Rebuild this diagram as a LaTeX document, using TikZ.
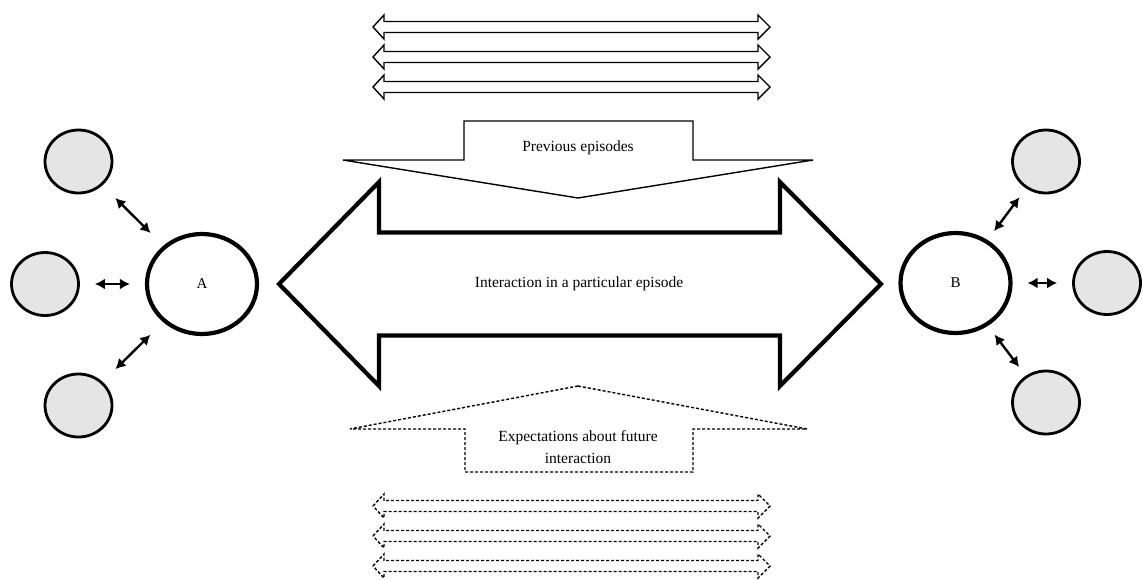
\documentclass[tikz,border=0pt]{standalone}
\usepackage{fontspec}
\setmainfont{Liberation Serif}
\usepackage{tikz}
\usetikzlibrary{arrows.meta,shapes}

\tikzset{
  actor/.style = {ellipse, draw, line width=4.2pt, minimum width=110pt, minimum height=100pt, font=\fontsize{15}{17}\selectfont},
  other/.style = {ellipse, draw, line width=2.8pt, fill=gray!20, minimum width=67pt, minimum height=63pt},
  link/.style = {{Latex[length=10pt,width=11pt]}-{Latex[length=10pt,width=11pt]}, line width=2.4pt, shorten >=#1, shorten <=#1},
  link/.default = 18pt,
  txt/.style = {font=\fontsize{15.5}{22}\selectfont, align=center},
  bigarrow/.style = {draw, line width=4.2pt},
  blockarrow/.style = {draw, line width=1.4pt},
  future/.style = {dash pattern=on 3pt off 2pt}
}

\begin{document}
\begin{tikzpicture}[x=1pt,y=-1pt]
\useasboundingbox (0,0) rectangle (1143,579);

\foreach \y in {27,57,87}
  \draw[blockarrow] (373,\y) -- (384,\y-12) -- (384,\y-5.5) -- (758,\y-5.5) -- (758,\y-12) -- (770,\y) -- (758,\y+12) -- (758,\y+5.5) -- (384,\y+5.5) -- (384,\y+12) -- cycle;

\draw[blockarrow] (464,121) -- (693,121) -- (693,160) -- (813,160) -- (578,198) -- (343,160) -- (464,160) -- cycle;
\node[txt] (prev) at (578,148) {Previous episodes};

\draw[bigarrow] (279,284) -- (379,182) -- (379,232.5) -- (780,232.5) -- (780,182) -- (881,284) -- (780,386) -- (780,335.5) -- (379,335.5) -- (379,386) -- cycle;
\node[txt] (inter) at (579,284) {Interaction in a particular episode};

\draw[blockarrow, future] (578,386) -- (807,429) -- (693,429) -- (693,472) -- (465,472) -- (465,429) -- (350,429) -- cycle;
\node[txt] (expect) at (578,447) {Expectations about future\\interaction};

\foreach \y in {506,536,566}
  \draw[blockarrow, future] (373,\y) -- (384,\y-12) -- (384,\y-5.5) -- (758,\y-5.5) -- (758,\y-12) -- (770,\y) -- (758,\y+12) -- (758,\y+5.5) -- (384,\y+5.5) -- (384,\y+12) -- cycle;

\node[actor] (A) at (202,284) {A};
\node[other] (a1) at (78.5,161.5) {};
\node[other] (a2) at (45,284) {};
\node[other] (a3) at (78.5,405.5) {};

\node[actor] (B) at (955.5,283) {B};
\node[other] (b1) at (1046,161.5) {};
\node[other] (b2) at (1107,283) {};
\node[other] (b3) at (1046,402.5) {};

\draw[link] (A) -- (a1);
\draw[link=15pt] (A) -- (a2);
\draw[link] (A) -- (a3);
\draw[link=11pt] (B) -- (b1);
\draw[link=15pt] (B) -- (b2);
\draw[link=11pt] (B) -- (b3);

\end{tikzpicture}
\end{document}
